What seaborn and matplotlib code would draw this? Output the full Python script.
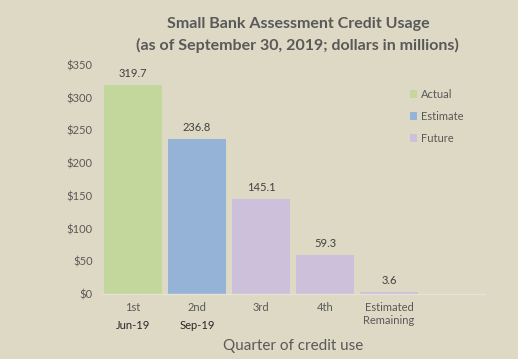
import matplotlib
matplotlib.use("Agg")
import matplotlib.pyplot as plt
import matplotlib.transforms as mtransforms
import seaborn as sns
import pandas as pd

# chart data
quarters = ["1st", "2nd", "3rd", "4th", "Estimated\nRemaining", ""]
dates = ["Jun-19", "Sep-19", "", "", "", ""]
credit = [319.7, 236.8, 145.1, 59.3, 3.6, 0.0]
status = ["Actual", "Estimate", "Future", "Future", "Future", "Future"]
colors = {"Actual": "#C3D69B", "Estimate": "#95B3D7", "Future": "#CCC0DA"}

bg = "#DDD9C4"
grey = "#595959"


def main():
    sns.set_style("white")
    plt.rcParams["font.family"] = ["Lato", "DejaVu Sans"]

    df = pd.DataFrame({"quarter": quarters, "credit": credit, "status": status})

    fig = plt.figure(figsize=(5.18, 3.59), dpi=100, facecolor=bg)
    ax = fig.add_axes([0.195, 0.181, 0.741, 0.638])
    ax.set_facecolor(bg)

    sns.barplot(data=df, x="quarter", y="credit", hue="status", palette=colors,
                dodge=False, width=0.9, saturation=1, linewidth=0, ax=ax, legend=True)

    ax.set_ylim(0, 350)
    ax.set_xlim(-0.5, len(quarters) - 0.5)
    ax.set_yticks(range(0, 351, 50))
    ax.set_yticklabels(["$%d" % v for v in range(0, 351, 50)])
    ax.tick_params(axis="both", length=0, labelsize=8, colors=grey, pad=6)

    for s in ["top", "right", "left"]:
        ax.spines[s].set_visible(False)
    ax.spines["bottom"].set_color("#E6E3D5")
    ax.spines["bottom"].set_linewidth(1)

    # value labels above bars
    for i, v in enumerate(credit[:5]):
        ax.text(i, v + 9, "%.1f" % v, ha="center", va="bottom", fontsize=8, color="#404040")

    # second line of the x labels (dates)
    trans = mtransforms.blended_transform_factory(ax.transData, ax.transAxes)
    for i, d in enumerate(dates):
        if d:
            ax.text(i, -0.115, d, transform=trans, ha="center", va="top", fontsize=8, color="#262626")

    ax.set_ylabel("")
    ax.set_xlabel("Quarter of credit use", fontsize=11, color=grey, labelpad=9)

    leg = ax.legend(loc="upper right", bbox_to_anchor=(0.97, 0.94), frameon=False,
                    fontsize=8, handlelength=0.7, handleheight=0.7, handletextpad=0.3,
                    labelspacing=1.0)
    for h in leg.legend_handles:
        h.set_linewidth(0)
    for t in leg.get_texts():
        t.set_color(grey)

    fig.text(0.575, 0.903, "Small Bank Assessment Credit Usage\n(as of September 30, 2019; dollars in millions)",
             ha="center", va="center", fontsize=11.5, fontweight="bold", color=grey, linespacing=1.6)

    fig.savefig("out.png", dpi=100, facecolor=bg)


if __name__ == "__main__":
    main()
